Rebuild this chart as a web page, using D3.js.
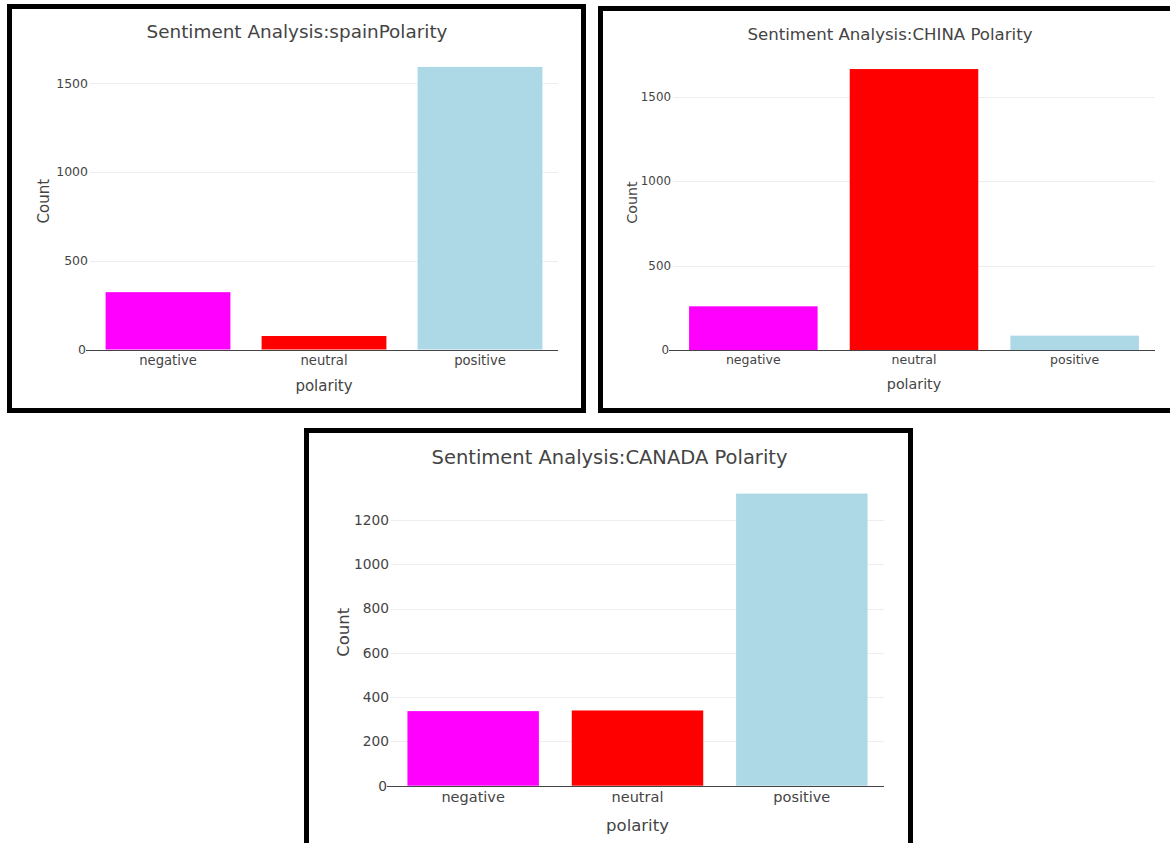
<!DOCTYPE html>
<html>
<head>
<meta charset="utf-8">
<script src="https://cdn.jsdelivr.net/npm/d3@7"></script>
<style>
  body { margin: 0; background: #fff; }
  svg { display: block; font-family: "DejaVu Sans", Verdana, sans-serif; }
</style>
</head>
<body>
<svg id="chart" width="1170" height="843"></svg>
<script>
// data
var categories = ["negative", "neutral", "positive"];
var barColors = ["#ff00ff", "#ff0000", "#add8e6"];

var spainCounts = [323, 76, 1592];
var chinaCounts = [259, 1665, 85];
var canadaCounts = [337, 340, 1320];

var spainTicks = [0, 500, 1000, 1500];
var chinaTicks = [0, 500, 1000, 1500];
var canadaTicks = [0, 200, 400, 600, 800, 1000, 1200];

var svg = d3.select("#chart");

function drawPanel(title, counts, ticks, box, plot, k) {
  var g = svg.append("g");

  // frame round each screenshot
  g.append("rect")
    .attr("x", box.x).attr("y", box.y)
    .attr("width", box.w).attr("height", box.h)
    .style("fill", "#fff")
    .style("stroke", "#000")
    .style("stroke-width", 5);

  var yMax = d3.max(counts) * 1.05;
  var x = d3.scaleBand().domain(categories).range([plot.left, plot.right])
    .paddingInner(0.2).paddingOuter(0.1);
  var y = d3.scaleLinear().domain([0, yMax]).range([plot.zero, plot.top]);

  // gridlines
  g.append("g").selectAll("line")
    .data(ticks.filter(function(d) { return d > 0; }))
    .enter().append("line")
    .attr("x1", plot.left).attr("x2", plot.right)
    .attr("y1", function(d) { return Math.round(y(d)) + 0.5; })
    .attr("y2", function(d) { return Math.round(y(d)) + 0.5; })
    .style("stroke", "#eee").style("stroke-width", 1);

  // bars
  g.append("g").selectAll("rect")
    .data(counts)
    .enter().append("rect")
    .attr("x", function(d, i) { return x(categories[i]); })
    .attr("y", function(d) { return y(d); })
    .attr("width", x.bandwidth())
    .attr("height", function(d) { return y(0) - y(d); })
    .attr("fill", function(d, i) { return barColors[i]; });

  // x axis line
  g.append("line")
    .attr("x1", plot.left - 4).attr("x2", plot.right)
    .attr("y1", Math.round(y(0)) + 0.5).attr("y2", Math.round(y(0)) + 0.5)
    .style("stroke", "#444").style("stroke-width", 1);

  // y tick labels
  g.append("g").selectAll("text")
    .data(ticks)
    .enter().append("text")
    .attr("x", function(d) { return d === 0 ? plot.left - 4 : plot.left - 2; })
    .attr("y", function(d) { return y(d); })
    .attr("dy", "0.35em")
    .attr("text-anchor", "end")
    .style("font-size", (12.5 * k) + "px")
    .style("fill", "#444")
    .text(function(d) { return d; });

  // x tick labels
  g.append("g").selectAll("text")
    .data(categories)
    .enter().append("text")
    .attr("x", function(d) { return x(d) + x.bandwidth() / 2; })
    .attr("y", y(0) + 10.5 * k)
    .attr("dy", "0.35em")
    .attr("text-anchor", "middle")
    .style("font-size", (13.2 * k) + "px")
    .style("fill", "#444")
    .text(function(d) { return d; });

  // axis titles
  g.append("text")
    .attr("x", (plot.left + plot.right) / 2)
    .attr("y", y(0) + 36 * k)
    .attr("dy", "0.35em")
    .attr("text-anchor", "middle")
    .style("font-size", (15 * k) + "px")
    .style("fill", "#444")
    .text("polarity");

  g.append("text")
    .attr("transform", "translate(" + plot.countX + "," + ((plot.zero + plot.top) / 2) + ") rotate(-90)")
    .attr("dy", "0.35em")
    .attr("text-anchor", "middle")
    .style("font-size", (15 * k) + "px")
    .style("fill", "#444")
    .text("Count");

  g.append("text")
    .attr("x", plot.titleX)
    .attr("y", plot.titleY)
    .attr("dy", "0.35em")
    .attr("text-anchor", "middle")
    .style("font-size", plot.titleSize + "px")
    .style("fill", "#444")
    .text(title);
}

drawPanel("Sentiment Analysis:spainPolarity", spainCounts, spainTicks,
  {x: 9.5, y: 6.5, w: 574, h: 404},
  {left: 90, right: 558, zero: 349.5, top: 52.8, countX: 44, titleX: 297, titleY: 32, titleSize: 18.4}, 1);

drawPanel("Sentiment Analysis:CHINA Polarity", chinaCounts, chinaTicks,
  {x: 600.5, y: 8.5, w: 579, h: 402},
  {left: 673, right: 1155, zero: 350, top: 55, countX: 632, titleX: 890, titleY: 34, titleSize: 16.6}, 0.95);

drawPanel("Sentiment Analysis:CANADA Polarity", canadaCounts, canadaTicks,
  {x: 306.5, y: 430.5, w: 604, h: 430},
  {left: 391, right: 884, zero: 785.7, top: 479, countX: 343, titleX: 609.5, titleY: 457, titleSize: 19.5}, 1.1);
</script>
</body>
</html>
